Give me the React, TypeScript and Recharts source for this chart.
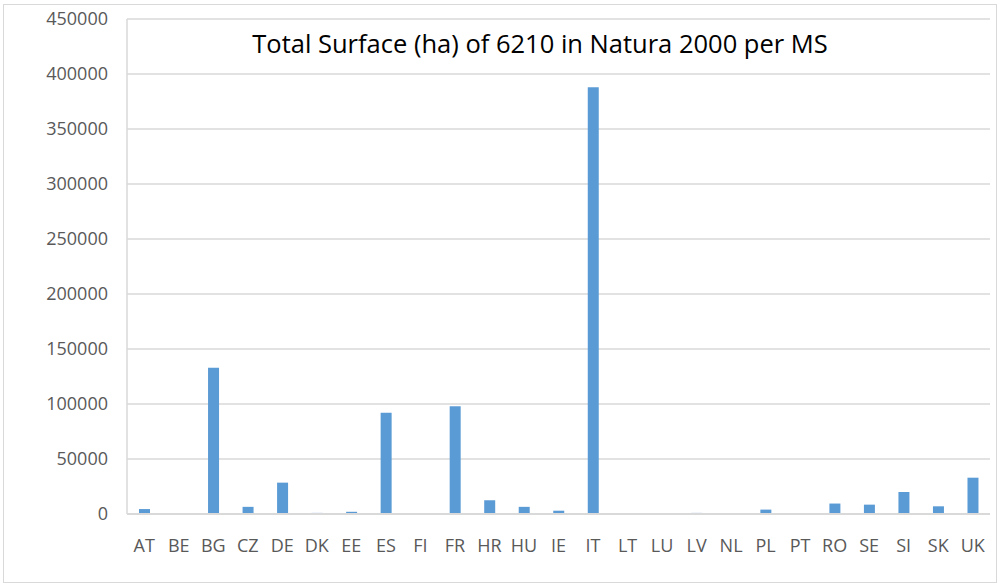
import { BarChart, Bar, XAxis, YAxis, CartesianGrid } from "recharts";

const countries = [
  "AT", "BE", "BG", "CZ", "DE", "DK", "EE", "ES", "FI", "FR", "HR", "HU", "IE", "IT",
  "LT", "LU", "LV", "NL", "PL", "PT", "RO", "SE", "SI", "SK", "UK",
];

const surfaceHa = [
  4500, 0, 133000, 6500, 28500, 1000, 2000, 92000, 0, 98000, 12500, 6500, 3000, 388000,
  0, 0, 1000, 0, 4000, 0, 9500, 8500, 20000, 7000, 33000,
];

const yTicks = [0, 50000, 100000, 150000, 200000, 250000, 300000, 350000, 400000, 450000];

const chartData = countries.map((c, i) => ({ country: c, surface: surfaceHa[i] }));

const font = "'Open Sans', sans-serif";
const tickStyle = { fontSize: 18, fill: "#595959", fontFamily: font };

export default function App() {
  return (
    <div style={{ position: "absolute", left: 0, top: 0, width: 999, height: 586, background: "#fff" }}>
      <div
        style={{
          position: "absolute",
          left: 3,
          top: 4,
          width: 992,
          height: 577,
          border: "1px solid #d9d9d9",
        }}
      />
      <BarChart
        width={999}
        height={586}
        data={chartData}
        margin={{ top: 19, right: 9, bottom: 0, left: 7 }}
        style={{ position: "absolute", left: 0, top: 0 }}
      >
        <CartesianGrid vertical={false} stroke="#d9d9d9" strokeWidth={1.5} />
        <XAxis
          dataKey="country"
          height={72}
          interval={0}
          tickLine={false}
          axisLine={{ stroke: "#d9d9d9", strokeWidth: 2 }}
          tickSize={0}
          tickMargin={25}
          tick={tickStyle}
        />
        <YAxis
          width={120}
          domain={[0, 450000]}
          ticks={yTicks}
          interval={0}
          tickLine={false}
          axisLine={{ stroke: "#d9d9d9", strokeWidth: 1.5 }}
          tickSize={0}
          tickMargin={19}
          tick={tickStyle}
        />
        <YAxis
          yAxisId="right"
          orientation="right"
          width={0}
          domain={[0, 450000]}
          tick={false}
          tickLine={false}
          axisLine={{ stroke: "#d9d9d9", strokeWidth: 1.5 }}
        />
        <Bar dataKey="surface" fill="#5b9bd5" barSize={11} isAnimationActive={false} />
      </BarChart>
      <div
        style={{
          position: "absolute",
          left: 90,
          width: 900,
          top: 26,
          textAlign: "center",
          fontFamily: font,
          fontSize: 25.5,
          color: "#000",
          whiteSpace: "nowrap",
        }}
      >
        Total Surface (ha) of 6210 in Natura 2000 per MS
      </div>
    </div>
  );
}
